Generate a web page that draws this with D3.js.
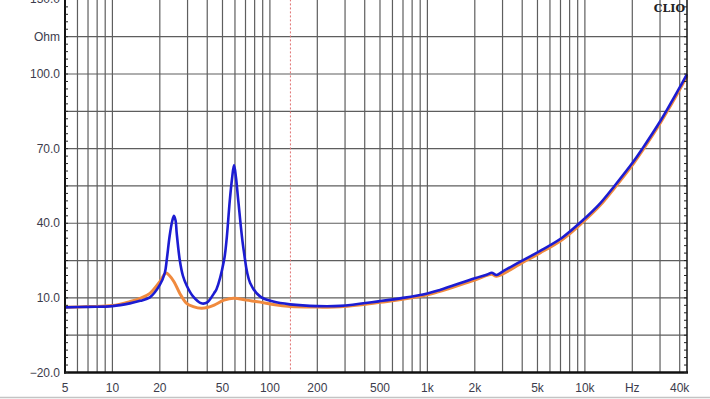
<!DOCTYPE html>
<html>
<head>
<meta charset="utf-8">
<script src="https://cdn.jsdelivr.net/npm/d3@7"></script>
<style>
  html, body { margin: 0; padding: 0; background: #fff; overflow: hidden; }
  svg { display: block; font-family: "Liberation Sans", Arial, sans-serif; }
</style>
</head>
<body>
<div id="chart"></div>
<script>
// impedance curve, blue (Hz / Ohm)
const blueFreq = [5, 7, 10, 12.9, 15, 17.3, 20, 21.5, 22.2, 23.1, 24, 24.6, 25.2, 25.6, 26.8, 28, 29.6, 32.6, 36.7, 40, 44.3, 45.8, 51.1, 53, 55.6, 57.5, 59.2, 61, 63, 68.2, 74.9, 86.9, 105, 134, 200, 280, 500, 700, 1000, 1200, 2000, 2400, 2560, 2750, 3000, 4060, 5200, 7200, 9500, 12500, 15500, 20400, 23300, 30000, 33400, 40000, 44500];
const blueOhm  = [6.2, 6.4, 6.7, 7.8, 8.8, 10.2, 15.2, 20, 26, 35, 41, 43, 41, 36, 25, 19, 15, 10.5, 7.8, 8.2, 12, 13.5, 25, 33, 49, 58, 63.4, 58, 49, 29, 16, 10.5, 8.5, 7.4, 6.7, 6.8, 8.7, 10, 11.8, 13.2, 17.9, 19.4, 20.1, 19.2, 20.6, 25.2, 28.9, 34.3, 40.7, 48, 55.2, 64.9, 70.2, 80.9, 85.9, 94.6, 100];

// second curve, orange
const orangeFreq = [5, 7, 10, 12.9, 15, 17.3, 20, 21.9, 23, 24.6, 26.8, 29.6, 32.6, 36.7, 40, 44.3, 51.1, 59.1, 70.8, 86.9, 105, 135, 200, 280, 500, 1000, 2000, 2560, 2750, 4060, 5200, 7200, 9500, 12500, 15500, 20400, 23300, 30000, 33400, 40000, 44500];
const orangeOhm  = [6.2, 6.5, 6.9, 8.5, 9.8, 11.8, 16.5, 20, 19, 16.5, 11.8, 7.8, 6.5, 5.8, 6.1, 7.1, 9.1, 9.9, 9.1, 8.3, 7.3, 6.5, 6.3, 6.4, 8.2, 11.2, 17.2, 19.5, 18.7, 24.4, 28.1, 33.5, 39.9, 47.2, 54.4, 64.1, 69.4, 80.1, 85.1, 93.8, 99.2];

// axis labels
const xTickValues = [5, 10, 20, 50, 100, 200, 500, 1000, 2000, 5000, 10000, 20000, 40000];
const xTickLabels = ["5", "10", "20", "50", "100", "200", "500", "1k", "2k", "5k", "10k", "Hz", "40k"];
const yTickValues = [-20, 10, 40, 70, 100, 130];
const markerFreq = 135;

const width = 710, height = 399;

const svg = d3.select("#chart").append("svg")
  .attr("width", width)
  .attr("height", height);

const x = d3.scaleLog().domain([5, 44500]).range([65, 687]);
const y = d3.scaleLinear().domain([-20, 130]).range([372.5, -0.6]);

// grid lines
const xGrid = [];
for (let dec = 1; dec <= 10000; dec *= 10) {
  for (let m = 1; m <= 9; m++) {
    const f = m * dec;
    if (f > 5 && f <= 40000) xGrid.push(f);
  }
}
svg.append("g")
  .selectAll("line")
  .data(xGrid)
  .join("line")
  .attr("x1", d => x(d)).attr("x2", d => x(d))
  .attr("y1", y(130)).attr("y2", y(-20))
  .attr("stroke", "#5e5e5e")
  .attr("stroke-width", 1.2);

svg.append("g")
  .selectAll("line")
  .data(d3.range(-5, 130, 15))
  .join("line")
  .attr("x1", x(5)).attr("x2", x(44500))
  .attr("y1", d => y(d)).attr("y2", d => y(d))
  .attr("stroke", "#5e5e5e")
  .attr("stroke-width", 1.2);

// dashed marker
svg.append("line")
  .attr("x1", x(markerFreq)).attr("x2", x(markerFreq))
  .attr("y1", y(130)).attr("y2", y(-20))
  .attr("stroke", "#e07070")
  .attr("stroke-width", 1)
  .attr("stroke-dasharray", "2,2");

const line = d3.line()
  .x(d => x(d[0]))
  .y(d => y(d[1]))
  .curve(d3.curveCatmullRom.alpha(0.5));

svg.append("path")
  .datum(d3.zip(orangeFreq, orangeOhm))
  .attr("d", line)
  .attr("fill", "none")
  .attr("stroke", "#f08a3e")
  .attr("stroke-width", 3);

svg.append("path")
  .datum(d3.zip(blueFreq, blueOhm))
  .attr("d", line)
  .attr("fill", "none")
  .attr("stroke", "#1c1cd2")
  .attr("stroke-width", 2.6);

// frame
svg.append("line")
  .attr("x1", x(5)).attr("x2", x(5))
  .attr("y1", 0).attr("y2", y(-20) + 1)
  .attr("stroke", "#111").attr("stroke-width", 2);
svg.append("line")
  .attr("x1", x(5) - 1).attr("x2", x(44500) + 1)
  .attr("y1", y(-20)).attr("y2", y(-20))
  .attr("stroke", "#111").attr("stroke-width", 2.5);
svg.append("line")
  .attr("x1", x(44500)).attr("x2", x(44500))
  .attr("y1", 0).attr("y2", y(-20))
  .attr("stroke", "#111").attr("stroke-width", 1.5);

// small ticks along left and right edges
const minor = d3.range(-20, 131, 3);
svg.append("g")
  .selectAll("line")
  .data(minor)
  .join("line")
  .attr("x1", x(5)).attr("x2", x(5) + 3)
  .attr("y1", d => y(d)).attr("y2", d => y(d))
  .attr("stroke", "#222").attr("stroke-width", 1);
svg.append("g")
  .selectAll("line")
  .data(minor)
  .join("line")
  .attr("x1", x(44500) - 3).attr("x2", x(44500))
  .attr("y1", d => y(d)).attr("y2", d => y(d))
  .attr("stroke", "#222").attr("stroke-width", 1);

// y labels
svg.append("g")
  .selectAll("text")
  .data(yTickValues)
  .join("text")
  .attr("x", 60)
  .attr("y", d => y(d) + 4)
  .attr("text-anchor", "end")
  .attr("font-size", 12)
  .attr("fill", "#3c3c4c")
  .text(d => d3.format(".1f")(d));

svg.append("text")
  .attr("x", 60).attr("y", y(115) + 4)
  .attr("text-anchor", "end")
  .attr("font-size", 12)
  .attr("fill", "#3c3c4c")
  .text("Ohm");

// x labels
svg.append("g")
  .selectAll("text")
  .data(xTickValues)
  .join("text")
  .attr("x", d => x(d))
  .attr("y", 392)
  .attr("text-anchor", "middle")
  .attr("font-size", 12)
  .attr("fill", "#3c3c4c")
  .text((d, i) => xTickLabels[i]);

svg.append("text")
  .attr("x", 685).attr("y", 12)
  .attr("text-anchor", "end")
  .attr("font-size", 11)
  .attr("font-weight", "bold")
  .attr("font-family", "'DejaVu Serif', serif")
  .attr("fill", "#222")
  .text("CLIO");

// bottom strip line
svg.append("line")
  .attr("x1", 0).attr("x2", width)
  .attr("y1", 397.5).attr("y2", 397.5)
  .attr("stroke", "#c4c4c4").attr("stroke-width", 1.5);
</script>
</body>
</html>
